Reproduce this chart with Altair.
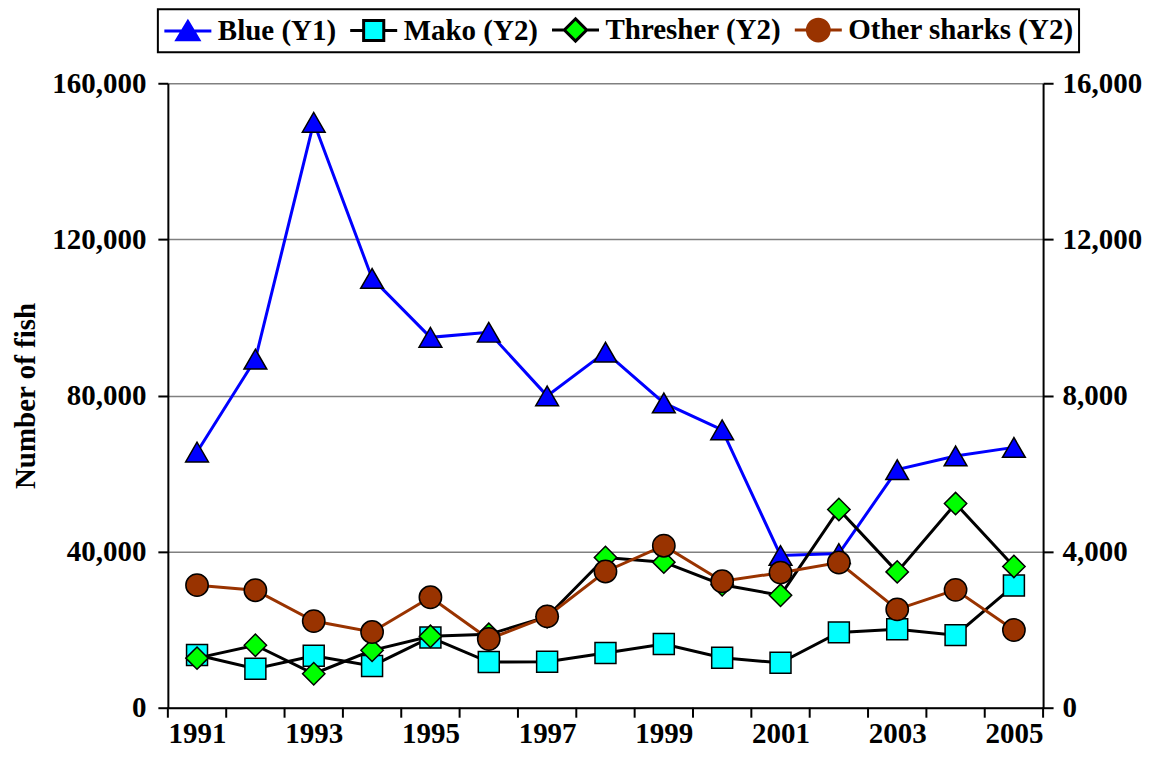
import altair as alt
import pandas as pd

years = list(range(1991, 2006))
blue = [65500, 89300, 150000, 110000, 94900, 96200, 79900, 91100, 78100, 71200, 39000, 39500, 61000, 64500, 66700]
mako = [1350, 1000, 1330, 1070, 1800, 1170, 1180, 1400, 1630, 1280, 1150, 1930, 2010, 1860, 3130]
thresher = [1270, 1600, 870, 1470, 1830, 1880, 2330, 3850, 3730, 3150, 2880, 5080, 3480, 5230, 3620]
other = [3140, 3010, 2220, 1940, 2830, 1760, 2340, 3490, 4150, 3240, 3460, 3720, 2520, 3020, 1990]

series_names = ["Blue (Y1)", "Mako (Y2)", "Thresher (Y2)", "Other sharks (Y2)"]
line_colors = ["#0000FF", "#000000", "#000000", "#993300"]
fill_colors = ["#0000FF", "#00FFFF", "#00FF00", "#993300"]
shapes = ["triangle-up", "square", "diamond", "circle"]
marker_sizes = [520, 440, 500, 500]

left_ticks = [0, 40000, 80000, 120000, 160000]
right_ticks = [0, 4000, 8000, 12000, 16000]
year_labels = years[::2]
boundaries = [y - 0.5 for y in years] + [years[-1] + 0.5]

values = [blue, mako, thresher, other]
rows = []
for name, vals in zip(series_names, values):
    for yr, v in zip(years, vals):
        rows.append({"year": yr, "value": v, "series": name})
df = pd.DataFrame(rows)
df_b = pd.DataFrame({"b": boundaries})

W, H = 876, 625
FONT = "Liberation Serif"
FS = 29

# legend symbols: a line with the marker in its middle
cx = 0.68
def seg(h):
    return f"M-1,0H{cx-h:.3f}M{cx+h:.3f},0H2.36"
legend_paths = [
    seg(0.45) + f"M{cx},-0.68L{cx+0.78:.3f},0.62L{cx-0.78:.3f},0.62Z",
    seg(0.72) + f"M{cx-0.72:.3f},-0.72H{cx+0.72:.3f}V0.72H{cx-0.72:.3f}Z",
    seg(0.8) + f"M{cx},-0.8L{cx+0.8:.3f},0L{cx},0.8L{cx-0.8:.3f},0Z",
    seg(0.78) + f"M{cx-0.78:.3f},0A0.78,0.78,0,1,0,{cx+0.78:.3f},0A0.78,0.78,0,1,0,{cx-0.78:.3f},0Z",
]

X_DOMAIN = [boundaries[0], boundaries[-1]]


def xenc(field="year"):
    return alt.X(
        f"{field}:Q",
        scale=alt.Scale(domain=X_DOMAIN, nice=False, zero=False),
        axis=alt.Axis(values=year_labels, format="d", ticks=False, grid=False, title=None,
                      labelPadding=12, labelFlush=False, labelOverlap=False,
                      domainColor="black", domainWidth=2),
    )


def y_left():
    return alt.Y(
        "value:Q",
        scale=alt.Scale(domain=[0, 160000], nice=False),
        axis=alt.Axis(values=left_ticks, format=",d", orient="left", grid=True,
                      gridColor="#808080", gridWidth=1.5, tickSize=10, tickColor="black",
                      tickWidth=2, domainColor="black", domainWidth=2, labelPadding=12,
                      title="Number of fish", titlePadding=11),
    )


def y_right():
    return alt.Y(
        "value:Q",
        scale=alt.Scale(domain=[0, 16000], nice=False),
        axis=alt.Axis(values=right_ticks, format=",d", orient="right", grid=False,
                      tickSize=10, tickColor="black", tickWidth=2, domainColor="black",
                      domainWidth=2, labelPadding=9, title=None),
    )


legend_spec = alt.Legend(
    orient="none", legendX=-10, legendY=-74, direction="horizontal", title=None,
    labelFont=FONT, labelFontSize=FS, labelFontWeight="bold", labelColor="black",
    labelLimit=400,
    symbolSize=784, symbolStrokeWidth=3, labelOffset=24, columnPadding=7,
    padding=5, strokeColor="black",
)

legend_layer = alt.Chart(df).mark_point(size=784, opacity=1, strokeWidth=3).encode(
    x=xenc(),
    y=y_left(),
    fill=alt.Fill("series:N", scale=alt.Scale(domain=series_names, range=fill_colors), legend=legend_spec),
    shape=alt.Shape("series:N", scale=alt.Scale(domain=series_names, range=legend_paths), legend=legend_spec),
    stroke=alt.Stroke("series:N", scale=alt.Scale(domain=series_names, range=line_colors), legend=legend_spec),
).transform_filter("false")

tick_rules = alt.Chart(df_b).mark_rule(color="black", strokeWidth=2).encode(
    x=xenc("b"), y=alt.value(H), y2=alt.value(H + 10)
)


def series_layers(i, yfun):
    name = series_names[i]
    base = alt.Chart(df).transform_filter(alt.datum.series == name)
    line = base.mark_line(color=line_colors[i], strokeWidth=3).encode(x=xenc(), y=yfun())
    pts = base.mark_point(
        shape=shapes[i], size=marker_sizes[i], filled=True, fill=fill_colors[i],
        stroke="black", strokeWidth=1.5, opacity=1, fillOpacity=1,
    ).encode(x=xenc(), y=yfun())
    return [line, pts]


left = alt.layer(legend_layer, tick_rules, *series_layers(0, y_left))
right_parts = []
for i in range(1, 4):
    right_parts += series_layers(i, y_right)
right = alt.layer(*right_parts)

chart = (
    alt.layer(left, right)
    .resolve_scale(y="independent")
    .properties(width=W, height=H, padding={"left": 3, "top": 0, "right": 0, "bottom": 0})
    .configure_axis(labelFont=FONT, labelFontSize=FS, labelFontWeight="bold", labelColor="black",
                    titleFont=FONT, titleFontSize=FS, titleFontWeight="bold", titleColor="black")
    .configure_legend(strokeWidth=2)
    .configure_view(stroke="transparent")
)

chart.save("out.html", embed_options={"renderer": "svg", "actions": False})
